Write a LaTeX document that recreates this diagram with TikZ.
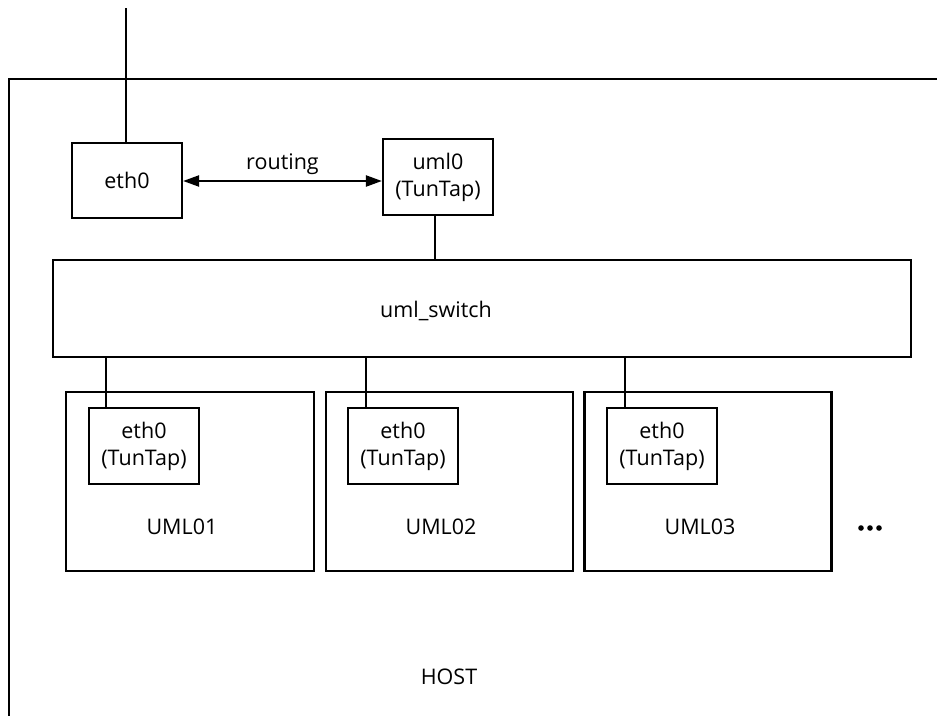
\documentclass[tikz,border=0pt]{standalone}
\usepackage{fontspec}
\setmainfont{Open Sans}
\usetikzlibrary{arrows.meta}
\begin{document}
\begin{tikzpicture}[x=1pt,y=-1pt,
  every node/.style={font=\fontsize{21.5}{27}\selectfont},
  box/.style={draw,line width=2.2pt,inner sep=0pt,align=center},
  wire/.style={line width=2.2pt},
  lbl/.style={inner sep=0pt}]
\useasboundingbox (0,0) rectangle (937,715);
% host frame
\coordinate (hb) at (9,716);
\coordinate (ht) at (9,79);
\coordinate (hr) at (938,79);
\draw[wire] (hb) -- (ht) -- (hr);
\coordinate (up) at (126,8);
% top boxes
\node[box,minimum width=110pt,minimum height=75pt] (eth) at (127,180.5) {eth0};
\node[box,minimum width=110pt,minimum height=76pt] (uml0) at (438,177) {uml0\\(TunTap)};
\draw[wire] (up) -- (eth.north -| up);
\draw[wire,{Triangle[length=16pt,width=11pt]}-{Triangle[length=16pt,width=11pt]}] (eth.east |- 0,181) -- node[lbl,above=5pt] (rt) {routing} (uml0.west |- 0,181);
% switch
\node[box,minimum width=858pt,minimum height=97pt] (sw) at (482,308.5) {};
\node[lbl] (swl) at (436,311) {uml\_switch};
\draw[wire] (uml0.south -| 435,0) -- (sw.north -| 435,0);
% UML hosts
\node[box,minimum width=248pt,minimum height=179pt] (h1) at (190,481.5) {};
\node[box,minimum width=247pt,minimum height=179pt] (h2) at (449.5,481.5) {};
\node[box,minimum width=247pt,minimum height=179pt] (h3) at (708,481.5) {};
\node[box,minimum width=110pt,minimum height=76pt] (e1) at (144,446) {eth0\\(TunTap)};
\node[box,minimum width=110pt,minimum height=76pt] (e2) at (403,446) {eth0\\(TunTap)};
\node[box,minimum width=110pt,minimum height=76pt] (e3) at (662,446) {eth0\\(TunTap)};
\draw[wire] (sw.south -| 106,0) -- (e1.north -| 106,0);
\draw[wire] (sw.south -| 366,0) -- (e2.north -| 366,0);
\draw[wire] (sw.south -| 625,0) -- (e3.north -| 625,0);
\node[lbl] (l1) at (182,527) {UML01};
\node[lbl] (l2) at (441,527) {UML02};
\node[lbl] (l3) at (700,527) {UML03};
\fill (861,528) circle (2.8pt) (870,528) circle (2.8pt) (879,528) circle (2.8pt);
\node[lbl] (host) at (449,677) {HOST};
\end{tikzpicture}
\end{document}
